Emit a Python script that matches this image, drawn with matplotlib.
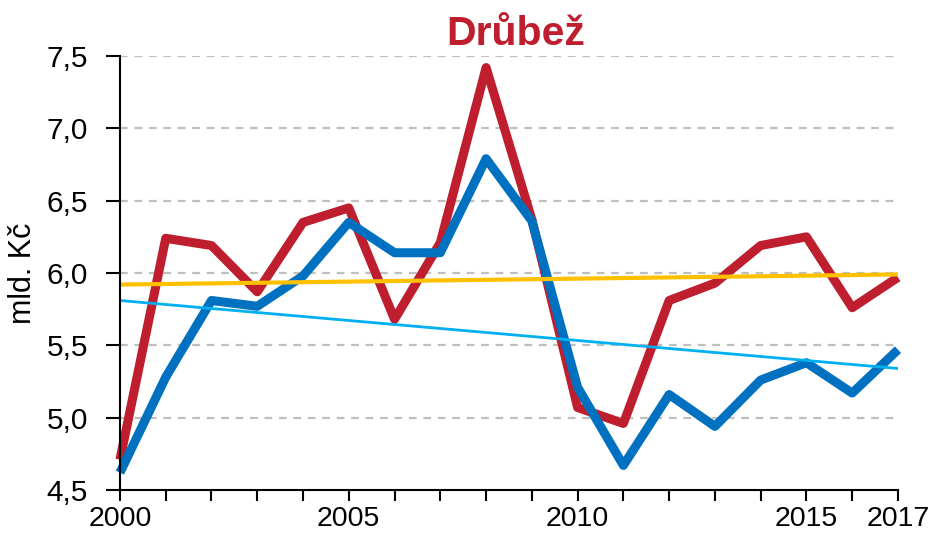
import matplotlib
matplotlib.use('Agg')
import matplotlib.pyplot as plt
from matplotlib.ticker import FixedLocator, FuncFormatter

plt.rcParams['font.family'] = ['Liberation Sans', 'DejaVu Sans']

# data
years = list(range(2000, 2018))
red = [4.71, 6.24, 6.19, 5.87, 6.35, 6.45, 5.68, 6.21, 7.42, 6.37,
       5.07, 4.96, 5.81, 5.93, 6.19, 6.25, 5.76, 5.97]
blue = [4.62, 5.28, 5.81, 5.77, 5.98, 6.35, 6.14, 6.14, 6.79, 6.36,
        5.21, 4.67, 5.16, 4.94, 5.26, 5.38, 5.17, 5.47]
trend_years = [2000, 2017]
trend_red = [5.92, 5.99]
trend_blue = [5.81, 5.34]
ytick_vals = [4.5, 5.0, 5.5, 6.0, 6.5, 7.0, 7.5]
xtick_labels = {2000: '2000', 2005: '2005', 2010: '2010', 2015: '2015', 2017: '2017'}

fig = plt.figure(figsize=(9.35, 5.38), dpi=100)
ax = fig.add_axes([0.1283, 0.0892, 0.8321, 0.8067])

# gridlines (dashed, grey), skip the bottom one
for v in ytick_vals[1:]:
    ax.plot([years[0], years[-1]], [v, v], color='#BFBFBF', lw=1.6,
            ls=(0, (3.5, 3)), zorder=1)

ax.plot(years, red, color='#BE1E2D', lw=6.5, solid_joinstyle='round',
        solid_capstyle='butt', zorder=3, clip_on=False)
ax.plot(years, blue, color='#0070C0', lw=6.5, solid_joinstyle='round',
        solid_capstyle='butt', zorder=4, clip_on=False)
ax.plot(trend_years, trend_red, color='#FFC000', lw=3, zorder=5)
ax.plot(trend_years, trend_blue, color='#00B0F0', lw=2, zorder=5)

ax.set_xlim(2000, 2017)
ax.set_ylim(4.5, 7.5)
ax.xaxis.set_major_locator(FixedLocator(years))
ax.xaxis.set_major_formatter(FuncFormatter(lambda x, p: xtick_labels.get(int(round(x)), '')))
ax.yaxis.set_major_locator(FixedLocator(ytick_vals))
ax.yaxis.set_major_formatter(FuncFormatter(lambda y, p: f'{y:.1f}'.replace('.', ',')))

for s in ['top', 'right']:
    ax.spines[s].set_visible(False)
for s in ['left', 'bottom']:
    ax.spines[s].set_linewidth(1.5)
    ax.spines[s].set_zorder(6)
ax.tick_params(axis='both', direction='out', width=1.5)
ax.tick_params(axis='x', length=8, pad=3.5, labelsize=20.5)
ax.tick_params(axis='y', length=10, pad=13, labelsize=21.5)

ax.set_ylabel('mld. Kč', fontsize=22, labelpad=6)
ax.set_title('Drůbež', fontsize=29.5, fontweight='bold', color='#BE1E2D', pad=8, x=0.508)

fig.savefig('out.png', dpi=100)
